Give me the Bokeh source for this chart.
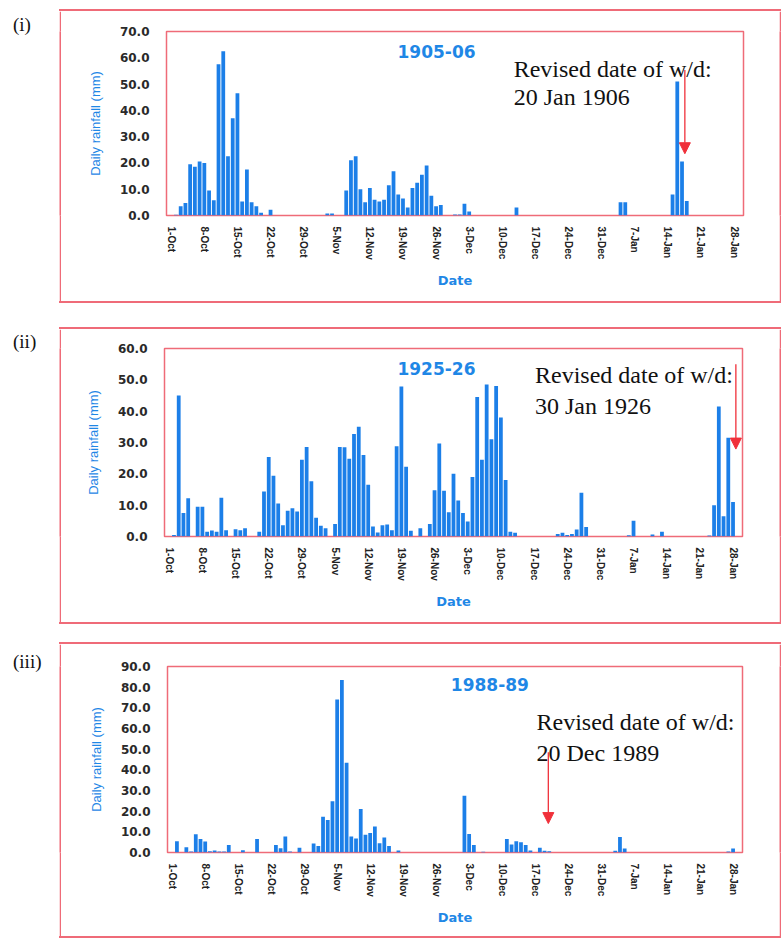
from bokeh.plotting import figure
from bokeh.layouts import column, row
from bokeh.models import (Range1d, FixedTicker, NumeralTickFormatter, Label,
                          Arrow, NormalHead, Spacer)
from bokeh.embed import file_html
from bokeh.resources import INLINE

# ---------------- data ----------------
DATE_TICKS = list(range(0, 120, 7))          # day index, 0 = 1 Oct
DATE_LABELS = ["1-Oct", "8-Oct", "15-Oct", "22-Oct", "29-Oct", "5-Nov", "12-Nov",
               "19-Nov", "26-Nov", "3-Dec", "10-Dec", "17-Dec", "24-Dec", "31-Dec",
               "7-Jan", "14-Jan", "21-Jan", "28-Jan"]

days_1905 = [1, 2, 3, 4, 5, 6, 7, 8, 9, 10, 11, 12, 13, 14, 15, 16, 17, 18, 19, 21,
             33, 34,
             37, 38, 39, 40, 41, 42, 43, 44, 45, 46, 47, 48, 49, 50, 51, 52, 53, 54, 55, 56, 57,
             60, 61, 62, 63, 73, 95, 96, 106, 107, 108, 109]
rain_1905 = [0.3, 3.5, 4.8, 19.5, 18.5, 20.5, 20.0, 9.5, 5.8, 57.5, 62.5, 22.5, 37.0, 46.5,
             5.3, 17.5, 5.0, 3.5, 1.0, 2.2,
             0.8, 0.8,
             9.5, 21.0, 22.5, 10.0, 5.0, 10.5, 6.0, 5.3, 6.0, 11.5, 16.8, 8.0, 6.5, 3.0, 10.5,
             12.5, 15.5, 19.0, 7.5, 3.5, 4.0,
             0.4, 0.4, 4.5, 1.5, 3.0, 5.0, 5.0, 8.0, 51.0, 20.5, 5.5]

days_1925 = [1, 2, 3, 4, 6, 7, 8, 9, 10, 11, 12, 14, 15, 16,
             19, 20, 21, 22, 23, 24, 25, 26, 27, 28, 29, 30, 31, 32, 33,
             35, 36, 37, 38, 39, 40, 41, 42, 43, 44, 45, 46, 47, 48, 49, 50, 51, 53,
             55, 56, 57, 58, 59, 60, 61, 62, 63, 64, 65, 66, 67, 68, 69, 70, 71, 72, 73,
             82, 83, 84, 85, 86, 87, 88, 97, 98, 102, 104, 114, 115, 116, 117, 118, 119]
rain_1925 = [0.5, 45.0, 7.5, 12.2, 9.5, 9.5, 1.5, 1.9, 1.5, 12.4, 2.0, 2.3, 2.0, 2.6,
             1.5, 14.4, 25.4, 19.4, 10.5, 3.6, 8.2, 9.0, 8.0, 24.5, 28.6, 17.6, 6.0, 3.4, 2.6,
             4.0, 28.6, 28.5, 24.8, 32.7, 35.0, 26.0, 16.5, 3.2, 1.3, 3.6, 3.8, 2.0, 28.8,
             47.9, 22.3, 1.8, 2.6,
             4.0, 14.8, 29.7, 14.6, 7.7, 20.0, 11.5, 7.5, 4.8, 19.0, 44.5, 24.5, 48.5, 31.0,
             48.0, 38.0, 18.0, 1.5, 1.2,
             0.8, 1.2, 0.5, 0.8, 2.2, 14.0, 3.0, 0.4, 5.0, 0.6, 1.5, 0.3, 10.0, 41.5, 6.5,
             31.5, 11.0]

days_1988 = [1, 3, 4, 5, 6, 7, 8, 9, 10, 11, 12, 15, 18, 22, 23, 24, 25, 27,
             30, 31, 32, 33, 34, 35, 36, 37, 38, 39, 40, 41, 42, 43, 44, 45, 46, 48,
             62, 63, 64, 66, 71, 72, 73, 74, 75, 76, 78, 79, 80, 94, 95, 96, 118, 119]
rain_1988 = [5.5, 2.6, 0.5, 8.8, 6.5, 5.3, 0.6, 1.0, 0.5, 0.5, 3.6, 1.1, 6.5, 3.6, 2.1, 7.8,
             0.5, 2.3,
             4.4, 3.2, 17.3, 15.7, 24.8, 74.0, 83.5, 43.4, 7.8, 6.8, 21.0, 8.6, 9.4, 12.6,
             4.5, 7.3, 3.2, 1.0,
             27.5, 9.0, 3.6, 0.4, 6.5, 3.9, 5.5, 4.9, 3.6, 1.0, 2.3, 0.8, 0.6, 0.8, 7.5, 1.9,
             0.5, 1.9]

# ---------------- styling ----------------
BLUE = "#1f87e6"
BAR = "#1c7fe8"
FRAME_RED = "#ef6b78"
ARROW_RED = "#f0303a"
W_PANEL = 722
EDGE = 2


def v_edge(h):
    """Thin red vertical strip: one side of a panel's outer border."""
    f = figure(width=EDGE, height=h, x_range=Range1d(0, 1), y_range=Range1d(0, 1),
               output_backend="svg", toolbar_location=None, title=None,
               min_border=0)
    f.axis.visible = False
    f.grid.visible = False
    f.outline_line_color = None
    f.background_fill_color = FRAME_RED
    f.border_fill_color = FRAME_RED
    return f


def h_edge():
    """Thin red horizontal strip: top / bottom of a panel's outer border."""
    return Spacer(width=W_PANEL, height=EDGE,
                  styles={"background-color": FRAME_RED})


def label_fig(text, h, y_top):
    f = figure(width=59, height=h, x_range=Range1d(0, 59), y_range=Range1d(h, 0),
               output_backend="svg", toolbar_location=None, title=None,
               min_border=0)
    f.axis.visible = False
    f.grid.visible = False
    f.outline_line_color = None
    f.add_layout(Label(x=12.5, y=y_top, text=text, text_font="Liberation Serif",
                       text_font_size="19px", text_color="#111",
                       text_baseline="top", text_align="left"))
    return f


def panel(days, rain, ymax, season, note_date, h, mb, title_xy, note_xy,
          arrow, label_text, label_top):
    w = W_PANEL - 2 * EDGE
    ih = h - 2 * EDGE
    p = figure(width=w, height=ih, x_range=Range1d(-1, 121),
               y_range=Range1d(0, ymax), output_backend="svg",
               toolbar_location=None, title=None,
               min_border_left=mb[0], min_border_right=mb[1],
               min_border_top=mb[2], min_border_bottom=mb[3])
    p.background_fill_color = "white"
    p.border_fill_color = "white"
    p.outline_line_color = FRAME_RED
    p.outline_line_width = 1.5
    p.grid.visible = False

    p.vbar(x=days, top=rain, width=0.8, fill_color=BAR, line_color=None)

    xa = p.xaxis[0]
    xa.ticker = FixedTicker(ticks=DATE_TICKS)
    xa.major_label_overrides = dict(zip(DATE_TICKS, DATE_LABELS))
    xa.major_label_orientation = "vertical"
    xa.major_label_text_font = "Liberation Sans"
    xa.major_label_text_font_style = "bold"
    xa.major_label_text_font_size = "10px"
    xa.major_label_text_color = "#222"
    xa.major_label_standoff = 11
    xa.axis_line_color = None
    xa.major_tick_line_color = None
    xa.minor_tick_line_color = None
    xa.major_tick_out = 0
    xa.minor_tick_out = 0
    xa.axis_label = "Date"
    xa.axis_label_text_font = "DejaVu Sans"
    xa.axis_label_text_font_style = "bold"
    xa.axis_label_text_font_size = "13px"
    xa.axis_label_text_color = BLUE
    xa.axis_label_standoff = 10

    ya = p.yaxis[0]
    ya.ticker = FixedTicker(ticks=list(range(0, ymax + 1, 10)))
    ya.formatter = NumeralTickFormatter(format="0.0")
    ya.major_label_text_font = "DejaVu Sans"
    ya.major_label_text_font_style = "bold"
    ya.major_label_text_font_size = "12px"
    ya.major_label_text_color = "#2a2a2a"
    ya.major_label_standoff = 17
    ya.axis_line_color = None
    ya.major_tick_line_color = None
    ya.minor_tick_line_color = None
    ya.major_tick_out = 0
    ya.minor_tick_out = 0
    ya.axis_label = "Daily rainfall (mm)"
    ya.axis_label_text_font = "Liberation Sans"
    ya.axis_label_text_font_style = "normal"
    ya.axis_label_text_font_size = "13px"
    ya.axis_label_text_color = BLUE
    ya.axis_label_standoff = 14

    p.add_layout(Label(x=title_xy[0], y=title_xy[1], text=season,
                       text_font="DejaVu Sans", text_font_style="bold",
                       text_font_size="17px", text_color=BLUE,
                       text_align="center", text_baseline="middle"))
    p.add_layout(Label(x=note_xy[0], y=note_xy[1], text="Revised date of w/d:",
                       text_font="Liberation Serif", text_font_size="24px",
                       text_color="#111", text_align="left",
                       text_baseline="alphabetic"))
    p.add_layout(Label(x=note_xy[0], y=note_xy[2], text=note_date,
                       text_font="Liberation Serif", text_font_size="24px",
                       text_color="#111", text_align="left",
                       text_baseline="alphabetic"))
    p.add_layout(Arrow(end=NormalHead(size=11, fill_color=ARROW_RED,
                                      line_color=ARROW_RED),
                       x_start=arrow[0], y_start=arrow[1],
                       x_end=arrow[0], y_end=arrow[2],
                       line_color=ARROW_RED, line_width=1.3))

    boxed = column(h_edge(),
                   row(v_edge(ih), p, v_edge(ih)),
                   h_edge())
    return row(label_fig(label_text, h, label_top), boxed)


H1, H2, H3 = 294, 297, 296

r1 = panel(days_1905, rain_1905, 70, "1905-06", "20 Jan 1906", H1,
           (105, 36, 20, 86), (56.1, 62.4), (72.4, 55.8, 45.0),
           (108.6, 55.4, 23.5), "(i)", 4)
r2 = panel(days_1925, rain_1925, 60, "1925-26", "30 Jan 1926", H2,
           (103, 37, 19, 86), (56.4, 53.5), (77.2, 51.5, 41.7),
           (119.6, 55.0, 27.9), "(ii)", 3)
r3 = panel(days_1988, rain_1988, 90, "1988-89", "20 Dec 1989", H3,
           (106, 37, 22, 84), (67.4, 81.3), (77.3, 63.0, 48.0),
           (79.8, 48.5, 14.0), "(iii)", 8)

layout = column(Spacer(height=9), r1, Spacer(height=24), r2,
                Spacer(height=18), r3)

open("out.html", "w").write(file_html(layout, INLINE))
